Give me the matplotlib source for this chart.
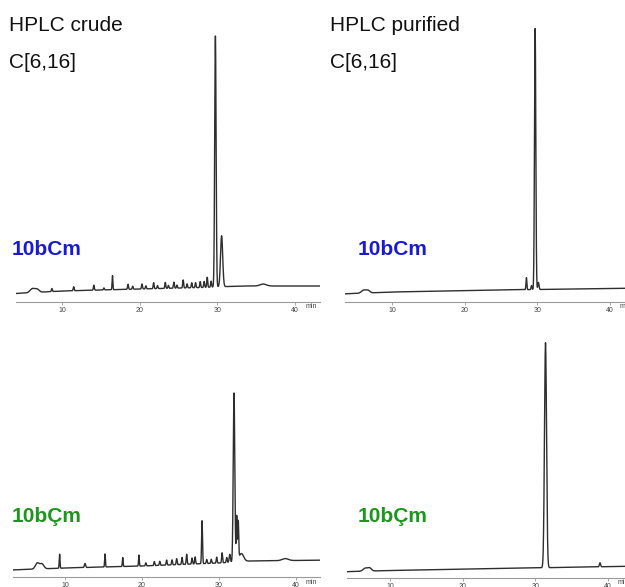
import numpy as np
import matplotlib.pyplot as plt

plt.rcParams['font.family'] = ['Liberation Sans', 'DejaVu Sans']

W, H = 625, 587

# peak tables: retention time (min), height (mAU), sigma (min)
crude_cm_rt = [6.2, 6.8, 8.7, 11.5, 14.1, 15.4, 16.5, 18.5, 19.1, 20.3, 20.8, 21.8, 22.3,
               23.3, 23.7, 24.4, 24.8, 25.6, 26.1, 26.7, 27.2, 27.8, 28.3, 28.7, 29.2,
               29.75, 30.55, 35.9]
crude_cm_h = [4, 3, 3, 4, 5, 2, 14, 5, 3, 5, 3, 6, 3,
              6, 3, 6, 3, 8, 4, 5, 5, 6, 6, 10, 6,
              251, 51, 2]
crude_cm_w = [0.3, 0.25, 0.06, 0.06, 0.06, 0.06, 0.05, 0.06, 0.06, 0.06, 0.06, 0.06, 0.06,
              0.06, 0.06, 0.06, 0.06, 0.06, 0.06, 0.06, 0.06, 0.06, 0.06, 0.06, 0.06,
              0.09, 0.14, 0.4]
crude_cm_base_t = [4, 10, 20, 28, 33, 45]
crude_cm_base = [8.5, 11, 13, 14.5, 16, 16]

pure_cm_rt = [6.1, 6.7, 28.5, 29.2, 29.7, 30.15]
pure_cm_h = [3, 2.5, 12, 4, 261, 7]
pure_cm_w = [0.3, 0.25, 0.06, 0.06, 0.09, 0.08]
pure_cm_base_t = [3, 10, 25, 45]
pure_cm_base = [8, 10, 12, 14]

crude_ccm_rt = [6.4, 7.0, 9.3, 12.6, 15.2, 17.5, 19.6, 20.5, 21.6, 22.3, 23.2, 23.9, 24.5,
                25.2, 25.8, 26.5, 26.9, 27.8, 28.4, 29.0, 29.7, 30.4, 31.0, 31.4,
                31.95, 32.3, 32.5, 32.9, 38.6]
crude_ccm_h = [6, 5, 14, 4, 13, 9, 11, 3, 4, 4, 5, 5, 6,
               7, 10, 6, 7, 43, 4, 4, 6, 10, 5, 8,
               169, 45, 38, 8, 2]
crude_ccm_w = [0.25, 0.25, 0.05, 0.08, 0.05, 0.05, 0.05, 0.06, 0.06, 0.06, 0.06, 0.06, 0.06,
               0.06, 0.06, 0.06, 0.06, 0.06, 0.06, 0.06, 0.06, 0.06, 0.06, 0.08,
               0.1, 0.06, 0.06, 0.3, 0.4]
crude_ccm_base_t = [3, 10, 20, 30, 34, 45]
crude_ccm_base = [7, 9, 11, 14, 16, 17]

pure_ccm_rt = [6.6, 7.2, 31.4, 38.9]
pure_ccm_h = [3, 3, 225, 4]
pure_ccm_w = [0.3, 0.25, 0.14, 0.08]
pure_ccm_base_t = [4, 10, 25, 45]
pure_ccm_base = [6.3, 7.5, 9.5, 12]

ticks = [10, 20, 30, 40]


def trace(t, rt, h, w, base_t, base):
    y = np.interp(t, base_t, base)
    for r, a, s in zip(rt, h, w):
        y = y + a * np.exp(-0.5 * ((t - r) / s) ** 2)
    return y


def add_panel(fig, left, right, axis_y, top, x10, x40, rt, h, w, base_t, base, min_dy):
    # pixel box -> figure fraction; x scale from the 10 and 40 min tick positions
    ppm = (x40 - x10) / 30.0
    xmin = 10 + (left - x10) / ppm
    xmax = 10 + (right - x10) / ppm
    ax = fig.add_axes([left / W, 1 - axis_y / H, (right - left) / W, (axis_y - top) / H])
    t = np.linspace(xmin, xmax, 6000)
    ax.plot(t, trace(t, rt, h, w, base_t, base), color='#2e2e2e', lw=1.0)
    ax.set_xlim(xmin, xmax)
    ax.set_ylim(0, axis_y - top)
    for s in ['top', 'right', 'left']:
        ax.spines[s].set_visible(False)
    ax.spines['bottom'].set_color('#9a9a9a')
    ax.spines['bottom'].set_linewidth(0.8)
    ax.set_yticks([])
    ax.set_xticks(ticks)
    ax.set_xticklabels([str(v) for v in ticks])
    ax.tick_params(axis='x', length=2, width=0.6, color='#9a9a9a', pad=1.5,
                   labelsize=5, labelcolor='#444444')
    ax.text(41.3, min_dy, 'min', fontsize=5, color='#444444', va='center', ha='left',
            clip_on=False)
    ax.patch.set_alpha(0)
    return ax


fig = plt.figure(figsize=(W / 100, H / 100), dpi=100)

add_panel(fig, 16, 320, 302, 15, 62, 295,
          crude_cm_rt, crude_cm_h, crude_cm_w, crude_cm_base_t, crude_cm_base, -5)
add_panel(fig, 345, 640, 302, 15, 392, 610,
          pure_cm_rt, pure_cm_h, pure_cm_w, pure_cm_base_t, pure_cm_base, -5)
add_panel(fig, 13, 320, 577, 330, 65, 296,
          crude_ccm_rt, crude_ccm_h, crude_ccm_w, crude_ccm_base_t, crude_ccm_base, -5)
add_panel(fig, 347, 640, 578, 330, 390, 608,
          pure_ccm_rt, pure_ccm_h, pure_ccm_w, pure_ccm_base_t, pure_ccm_base, -5)


def ftext(x, y, s, **kw):
    fig.text(x / W, 1 - y / H, s, va='baseline', ha='left', **kw)


ftext(9, 31, 'HPLC crude', fontsize=15, color='#111111')
ftext(9, 68, 'C[6,16]', fontsize=15, color='#111111')
ftext(330, 31, 'HPLC purified', fontsize=15, color='#111111')
ftext(330, 68, 'C[6,16]', fontsize=15, color='#111111')

ftext(12, 255, '10bCm', fontsize=15, fontweight='bold', color='#1a1ad2')
ftext(358, 255, '10bCm', fontsize=15, fontweight='bold', color='#1a1ad2')
ftext(12, 522, '10bÇm', fontsize=15, fontweight='bold', color='#1c961c')
ftext(358, 522, '10bÇm', fontsize=15, fontweight='bold', color='#1c961c')

fig.savefig('out.png', dpi=100)
